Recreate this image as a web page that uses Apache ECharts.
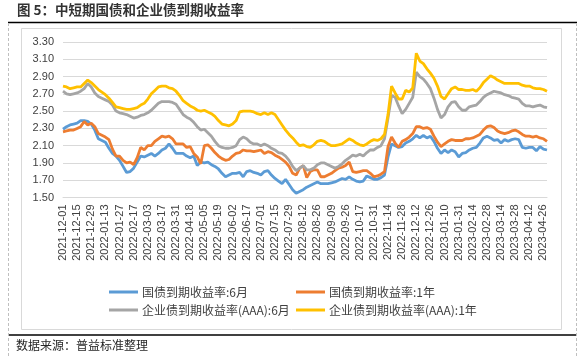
<!DOCTYPE html>
<html>
<head>
<meta charset="utf-8">
<script src="https://cdn.jsdelivr.net/npm/echarts@6/dist/echarts.min.js"></script>
<style>
html,body{margin:0;padding:0;background:#fff;}
#chart{width:586px;height:358px;}
</style>
</head>
<body>
<div id="chart"></div>
<script>
// Tick labels shown on the category axis (one every 4 data points)
const tickLabels = ['2021-12-01','2021-12-15','2021-12-29','2022-01-13','2022-01-27','2022-02-17','2022-03-03','2022-03-17','2022-03-31','2022-04-18','2022-05-05','2022-05-19','2022-06-02','2022-06-17','2022-07-01','2022-07-15','2022-07-29','2022-08-12','2022-08-26','2022-09-09','2022-09-26','2022-10-17','2022-10-31','2022-11-14','2022-11-28','2022-12-12','2022-12-26','2023-01-10','2023-01-31','2023-02-14','2023-02-28','2023-03-14','2023-03-28','2023-04-12','2023-04-26'];
const pointsPerTick = 4;

const seriesNames = ['国债到期收益率:6月','国债到期收益率:1年','企业债到期收益率(AAA):6月','企业债到期收益率(AAA):1年'];

const govt6m = [2.29,2.32,2.34,2.35,2.36,2.39,2.39,2.38,2.35,2.28,2.18,2.16,2.14,2.07,2.01,1.98,1.93,1.86,1.79,1.80,1.84,1.91,1.98,1.97,1.99,2.01,1.98,2.01,2.05,2.07,2.12,2.07,2.01,2.01,2.01,
1.98,1.96,1.98,1.87,1.91,1.90,1.91,1.88,1.86,1.83,1.78,1.74,1.76,1.78,1.78,1.79,1.74,1.80,1.81,1.79,1.78,1.76,1.80,1.81,1.76,1.72,1.69,1.66,1.71,1.65,1.59,1.55,1.57,1.59,1.62,
1.64,1.66,1.68,1.66,1.66,1.66,1.67,1.68,1.70,1.72,1.71,1.74,1.71,1.69,1.68,1.69,1.75,1.73,1.71,1.71,1.73,1.76,1.97,2.12,2.10,2.08,2.09,2.13,2.15,2.18,2.22,2.19,2.22,2.19,2.21,
2.15,2.07,2.01,2.05,2.02,2.05,2.03,1.97,2.01,2.02,2.05,2.07,2.08,2.13,2.19,2.21,2.19,2.16,2.17,2.13,2.17,2.15,2.17,2.18,2.17,2.08,2.07,2.08,2.08,2.04,2.09,2.06,2.05];

const govt1y = [2.26,2.27,2.28,2.28,2.30,2.32,2.38,2.34,2.36,2.32,2.24,2.22,2.20,2.17,2.06,1.98,1.98,1.93,1.90,1.91,1.88,1.96,2.08,2.05,2.10,2.10,2.15,2.18,2.21,2.20,2.21,2.18,2.12,2.12,2.12,
2.08,2.09,2.01,1.97,1.89,2.10,2.11,2.07,2.02,1.98,1.95,1.93,1.94,1.98,2.01,2.02,2.05,2.04,2.04,2.03,2.04,2.05,2.01,2.03,2.02,1.99,1.97,1.94,1.91,1.86,1.78,1.76,1.84,1.87,1.73,
1.80,1.82,1.82,1.74,1.74,1.76,1.78,1.81,1.84,1.85,1.87,1.91,1.80,1.79,1.80,1.81,1.81,1.78,1.74,1.75,1.77,1.80,2.09,2.20,2.13,2.08,2.15,2.17,2.20,2.24,2.32,2.32,2.30,2.31,2.29,
2.21,2.14,2.09,2.12,2.15,2.17,2.16,2.16,2.16,2.18,2.18,2.19,2.21,2.23,2.28,2.32,2.33,2.31,2.27,2.25,2.24,2.25,2.27,2.28,2.26,2.23,2.21,2.21,2.20,2.21,2.19,2.18,2.15];

const corp6m = [2.73,2.70,2.69,2.70,2.71,2.73,2.76,2.82,2.78,2.71,2.67,2.65,2.63,2.61,2.57,2.50,2.48,2.47,2.46,2.44,2.42,2.43,2.45,2.46,2.48,2.51,2.55,2.59,2.61,2.61,2.61,2.60,2.58,2.52,2.46,
2.43,2.41,2.37,2.32,2.28,2.29,2.25,2.21,2.15,2.10,2.08,2.07,2.07,2.08,2.10,2.17,2.20,2.18,2.14,2.12,2.12,2.10,2.12,2.10,2.07,2.05,2.02,2.01,1.98,1.93,1.86,1.81,1.84,1.87,1.82,
1.82,1.84,1.88,1.90,1.90,1.88,1.86,1.84,1.86,1.89,1.93,1.96,1.99,1.98,2.00,1.98,2.02,2.05,2.05,2.08,2.10,2.18,2.42,2.68,2.66,2.56,2.47,2.52,2.59,2.66,2.95,2.90,2.87,2.82,2.76,
2.65,2.52,2.42,2.46,2.55,2.60,2.61,2.55,2.51,2.51,2.55,2.56,2.57,2.61,2.66,2.69,2.71,2.73,2.72,2.71,2.69,2.68,2.66,2.65,2.64,2.59,2.56,2.56,2.55,2.56,2.57,2.55,2.54];

const corp1y = [2.79,2.78,2.76,2.77,2.78,2.78,2.82,2.86,2.83,2.79,2.75,2.72,2.69,2.65,2.60,2.55,2.54,2.53,2.52,2.52,2.53,2.54,2.57,2.59,2.64,2.70,2.74,2.78,2.79,2.79,2.77,2.76,2.73,2.68,2.62,
2.59,2.56,2.54,2.51,2.50,2.51,2.49,2.47,2.44,2.39,2.35,2.34,2.33,2.35,2.39,2.49,2.50,2.50,2.50,2.49,2.47,2.46,2.48,2.46,2.48,2.46,2.40,2.34,2.28,2.23,2.19,2.14,2.10,2.11,2.09,
2.08,2.11,2.15,2.16,2.15,2.12,2.10,2.10,2.11,2.12,2.15,2.18,2.16,2.13,2.11,2.10,2.12,2.15,2.17,2.16,2.18,2.23,2.46,2.79,2.71,2.64,2.64,2.74,2.72,2.77,3.17,3.08,3.05,2.99,2.94,
2.88,2.79,2.67,2.64,2.70,2.76,2.78,2.75,2.75,2.74,2.74,2.75,2.73,2.77,2.83,2.87,2.91,2.89,2.86,2.84,2.82,2.82,2.82,2.82,2.82,2.80,2.79,2.79,2.77,2.76,2.76,2.75,2.73];

const colors = ['#5B9BD5','#ED7D31','#A5A5A5','#FFC000'];
const allSeries = [govt6m, govt1y, corp6m, corp1y];

const categories = govt6m.map((_, i) => (i % pointsPerTick === 0 && tickLabels[i / pointsPerTick]) ? tickLabels[i / pointsPerTick] : '');

const cjk = '"Noto Sans CJK SC", "Noto Sans", sans-serif';
const legendPos = [[109, 286], [296, 286], [109, 304], [296, 304]];

const chart = echarts.init(document.getElementById('chart'), null, {renderer: 'canvas'});
chart.setOption({
  animation: false,
  backgroundColor: '#fff',
  grid: {left: 63, right: 39, top: 42, bottom: 160.5},
  xAxis: {
    type: 'category',
    data: categories,
    boundaryGap: false,
    axisLine: {lineStyle: {color: '#d9d9d9', width: 1}},
    axisTick: {show: false},
    axisLabel: {interval: pointsPerTick - 1, rotate: 90, fontSize: 11, fontFamily: '"Liberation Sans", Arial, sans-serif', color: '#404040', margin: 7}
  },
  yAxis: {
    type: 'value',
    min: 1.5, max: 3.3, interval: 0.2,
    axisLine: {show: false},
    axisTick: {show: false},
    axisLabel: {formatter: v => v.toFixed(2), fontSize: 11, fontFamily: '"Liberation Sans", Arial, sans-serif', color: '#404040', margin: 9},
    splitLine: {lineStyle: {color: '#d9d9d9', width: 1}}
  },
  legend: seriesNames.map((n, k) => ({
    data: [n], left: legendPos[k][0], top: legendPos[k][1],
    icon: 'rect', itemWidth: 29, itemHeight: 3, itemGap: 0, padding: 0,
    textStyle: {fontSize: 12, fontFamily: cjk, color: '#404040', padding: [0,0,0,-1]}
  })),
  series: allSeries.map((d, k) => ({
    name: seriesNames[k], type: 'line', data: d, symbol: 'none', smooth: false,
    lineStyle: {width: 2.8, color: colors[k]}, itemStyle: {color: colors[k]}
  })),
  graphic: [
    {type: 'rect', shape: {x: 21.5, y: 28.5, width: 540, height: 301}, style: {fill: 'none', stroke: '#d9d9d9', lineWidth: 1}, silent: true},
    {type: 'line', shape: {x1: 8, y1: 22.5, x2: 577, y2: 22.5}, style: {stroke: '#000', lineWidth: 1.5}, silent: true},
    {type: 'line', shape: {x1: 8, y1: 335, x2: 577, y2: 335}, style: {stroke: '#000', lineWidth: 1.5}, silent: true},
    {type: 'line', shape: {x1: 8.5, y1: 23, x2: 8.5, y2: 358}, style: {stroke: '#bfbfbf', lineWidth: 1, lineDash: [3, 2]}, silent: true},
    {type: 'line', shape: {x1: 576.5, y1: 23, x2: 576.5, y2: 358}, style: {stroke: '#bfbfbf', lineWidth: 1, lineDash: [3, 2]}, silent: true},
    {type: 'text', left: 17, top: 3, style: {text: '图 5：中短期国债和企业债到期收益率', font: 'bold 13.5px ' + cjk, fill: '#333333'}, silent: true},
    {type: 'text', left: 16, top: 339, style: {text: '数据来源：普益标准整理', font: '12px ' + cjk, fill: '#262626'}, silent: true}
  ]
});
</script>
</body>
</html>
